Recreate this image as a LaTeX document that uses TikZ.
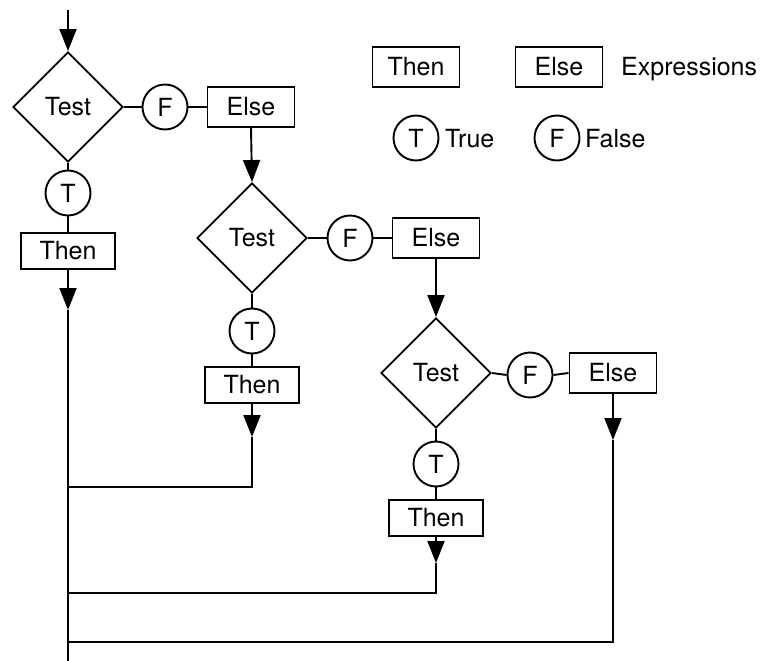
\documentclass[tikz,border=0pt]{standalone}
\usepackage{fontspec}
\setmainfont{TeX Gyre Heros}
\usetikzlibrary{shapes.geometric,arrows.meta}
\begin{document}
\begin{tikzpicture}[x=1pt,y=-1pt,
  every node/.style={font=\fontsize{25}{29}\selectfont},
  line/.style={line width=1.9pt},
  test/.style={draw,line width=1.9pt,diamond,minimum width=110pt,minimum height=110pt,inner sep=0pt},
  tf/.style={draw,line width=1.9pt,circle,minimum size=45pt,inner sep=0pt},
  elsebox/.style={draw,line width=1.9pt,rectangle,minimum width=87pt,minimum height=40pt,inner sep=0pt},
  thenbox/.style={draw,line width=1.9pt,rectangle,minimum width=94pt,minimum height=36pt,inner sep=0pt},
  arr/.style={line width=1.9pt,-{Triangle[length=22pt,width=17pt]}},
  lbl/.style={anchor=base west,inner sep=0pt}]
\useasboundingbox (0,0) rectangle (766,661);

% level 1
\coordinate (start) at (68,10);
\node[test] (d1) at (68,107) {Test};
\node[tf] (f1) at (165,107) {F};
\node[elsebox] (e1) at (251,107) {Else};
\node[tf] (t1) at (68,193) {T};
\node[thenbox] (th1) at (68,251) {Then};
\coordinate (a1) at (68,310);
\coordinate (bot) at (68,661);

% level 2
\node[test] (d2) at (252,238) {Test};
\node[tf] (f2) at (350,238) {F};
\node[elsebox] (e2) at (436,238) {Else};
\node[tf] (t2) at (252,331) {T};
\node[thenbox] (th2) at (252,385) {Then};
\coordinate (a2) at (252,437);
\coordinate (c2) at (252,487);
\coordinate (j2) at (68,487);

% level 3
\node[test] (d3) at (436,373) {Test};
\node[tf] (f3) at (530,375) {F};
\node[elsebox] (e3) at (613,373) {Else};
\node[tf] (t3) at (436,464) {T};
\node[thenbox] (th3) at (436,518) {Then};
\coordinate (a3) at (436,563);
\coordinate (c3) at (436,593);
\coordinate (j3) at (68,593);
\coordinate (a4) at (613,440);
\coordinate (c4) at (613,642);
\coordinate (j4) at (68,642);

% connectors
\draw[arr] (start) -- (d1.north);
\draw[line] (d1.east) -- (f1.west) (f1.east) -- (e1.west);
\draw[line] (d1.south) -- (t1.north) (t1.south) -- (th1.north);
\draw[arr] (th1.south) -- (a1);
\draw[line] (a1) -- (bot);
\draw[arr] (e1.south) -- (d2.north);

\draw[line] (d2.east) -- (f2.west) (f2.east) -- (e2.west);
\draw[line] (d2.south) -- (t2.north) (t2.south) -- (th2.north);
\draw[arr] (th2.south) -- (a2);
\draw[line] (a2) -- (c2) -- (j2);
\draw[arr] (e2.south) -- (d3.north);

\draw[line] (d3.east) -- (f3.west) (f3.east) -- (e3.west);
\draw[line] (d3.south) -- (t3.north) (t3.south) -- (th3.north);
\draw[arr] (th3.south) -- (a3);
\draw[line] (a3) -- (c3) -- (j3);
\draw[arr] (e3.south) -- (a4);
\draw[line] (a4) -- (c4) -- (j4);

% legend
\node[elsebox] (lthen) at (416,67) {Then};
\node[elsebox] (lelse) at (559,67) {Else};
\node[lbl] (lexpr) at (621,76) {Expressions};
\node[tf] (lt) at (416,138) {T};
\node[lbl] (ltrue) at (445,147) {True};
\node[tf] (lf) at (557,138) {F};
\node[lbl] (lfalse) at (585,147) {False};
\end{tikzpicture}
\end{document}
